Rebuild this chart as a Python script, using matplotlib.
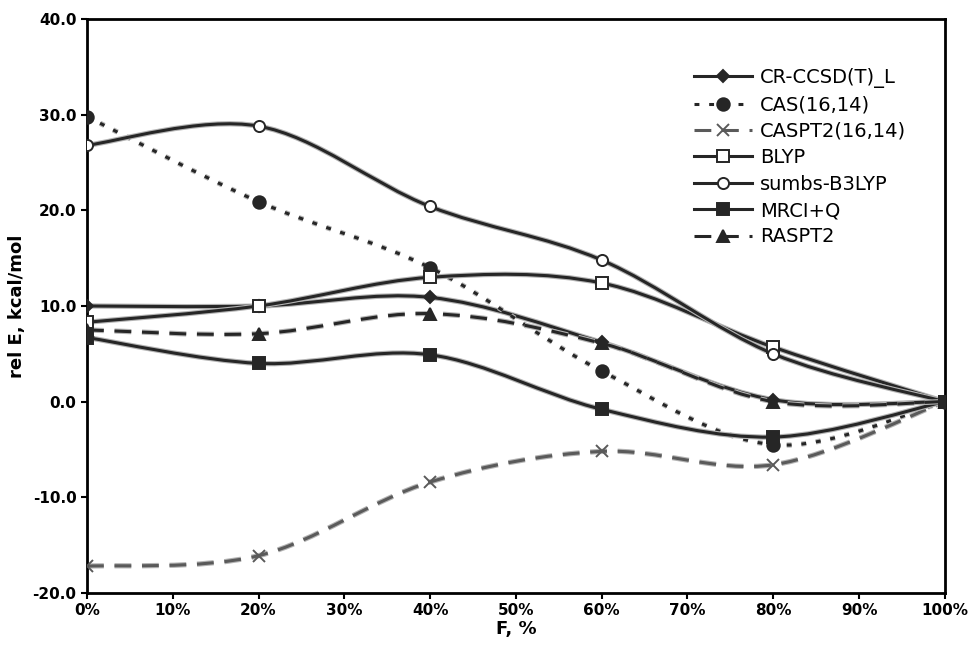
import matplotlib.pyplot as plt
import matplotlib.patheffects as pe
from matplotlib.path import Path
from matplotlib.patches import PathPatch
from matplotlib.lines import Line2D
from matplotlib.ticker import FormatStrFormatter, FuncFormatter

# fraction F, %
F = [0, 20, 40, 60, 80, 100]

# relative energies, kcal/mol
cr_ccsd = [10.0, 10.0, 10.9, 6.2, 0.2, 0.0]
cas = [29.8, 20.9, 14.0, 3.2, -4.5, 0.0]
caspt2 = [-17.2, -16.1, -8.4, -5.2, -6.6, 0.0]
blyp = [8.3, 10.0, 13.0, 12.4, 5.7, 0.0]
sumbs_b3lyp = [26.8, 28.8, 20.4, 14.8, 5.0, 0.0]
mrci_q = [6.7, 4.0, 4.9, -0.8, -3.7, 0.0]
raspt2 = [7.5, 7.1, 9.2, 6.1, 0.0, 0.0]

names = ['CR-CCSD(T)_L', 'CAS(16,14)', 'CASPT2(16,14)', 'BLYP',
         'sumbs-B3LYP', 'MRCI+Q', 'RASPT2']
series = [cr_ccsd, cas, caspt2, blyp, sumbs_b3lyp, mrci_q, raspt2]

dark = '#262626'
grey = '#5a5a5a'
# (marker, markersize, facecolor, linestyle, colour)
styles = [
    ('D', 6.5, dark, '-', dark),
    ('o', 9, dark, (0, (1.6, 3.2)), dark),
    ('x', 8.5, grey, (0, (5.5, 3.5)), grey),
    ('s', 8, 'white', '-', dark),
    ('o', 8, 'white', '-', dark),
    ('s', 9, dark, '-', dark),
    ('^', 8.5, dark, (0, (5.5, 3.5)), dark),
]


def smooth_path(x, y):
    # Excel style smoothed line: cubic Bezier through every point
    n = len(x)
    verts = [(x[0], y[0])]
    codes = [Path.MOVETO]
    for i in range(n - 1):
        x0, y0 = (x[i - 1], y[i - 1]) if i > 0 else (x[i], y[i])
        x3, y3 = (x[i + 2], y[i + 2]) if i + 2 < n else (x[i + 1], y[i + 1])
        c1 = (x[i] + (x[i + 1] - x0) / 6, y[i] + (y[i + 1] - y0) / 6)
        c2 = (x[i + 1] - (x3 - x[i]) / 6, y[i + 1] - (y3 - y[i]) / 6)
        verts += [c1, c2, (x[i + 1], y[i + 1])]
        codes += [Path.CURVE4] * 3
    return Path(verts, codes)


fig = plt.figure(figsize=(9.71, 6.48), dpi=100)
ax = fig.add_axes([0.0896, 0.0849, 0.8834, 0.8858])

shadow = [pe.Stroke(linewidth=3.8, foreground='#b4b4b4'), pe.Normal()]

handles = []
for name, vals, (mk, ms, mfc, ls, col) in zip(names, series, styles):
    patch = PathPatch(smooth_path(F, vals), fill=False, edgecolor=col,
                      linewidth=2.2, linestyle=ls, capstyle='butt',
                      zorder=2, path_effects=shadow)
    ax.add_patch(patch)
    ax.plot(F, vals, linestyle='none', marker=mk, markersize=ms,
            markerfacecolor=mfc, markeredgecolor=col,
            markeredgewidth=1.4, zorder=3)
    handles.append(Line2D([], [], color=col, linewidth=2.2, linestyle=ls,
                          marker=mk, markersize=ms, markerfacecolor=mfc,
                          markeredgecolor=col, markeredgewidth=1.4))

ax.set_xlim(0, 100)
ax.set_ylim(-20, 40)
ax.set_xticks(range(0, 101, 10))
ax.set_yticks(range(-20, 41, 10))
ax.xaxis.set_major_formatter(FuncFormatter(lambda v, p: '%d%%' % v))
ax.yaxis.set_major_formatter(FormatStrFormatter('%.1f'))
ax.tick_params(direction='out', length=4, width=1.5, labelsize=11,
               colors='black')
for lab in ax.get_xticklabels() + ax.get_yticklabels():
    lab.set_fontweight('bold')
for sp in ax.spines.values():
    sp.set_linewidth(2)

ax.set_xlabel('F, %', fontsize=13, fontweight='bold', labelpad=1)
ax.set_ylabel('rel E, kcal/mol', fontsize=13, fontweight='bold', labelpad=5)

ax.legend(handles, names, loc='upper right', bbox_to_anchor=(0.975, 0.945),
          frameon=False, fontsize=14, handlelength=3.0, handletextpad=0.4,
          labelspacing=0.38)

fig.savefig('out.png', dpi=100)
